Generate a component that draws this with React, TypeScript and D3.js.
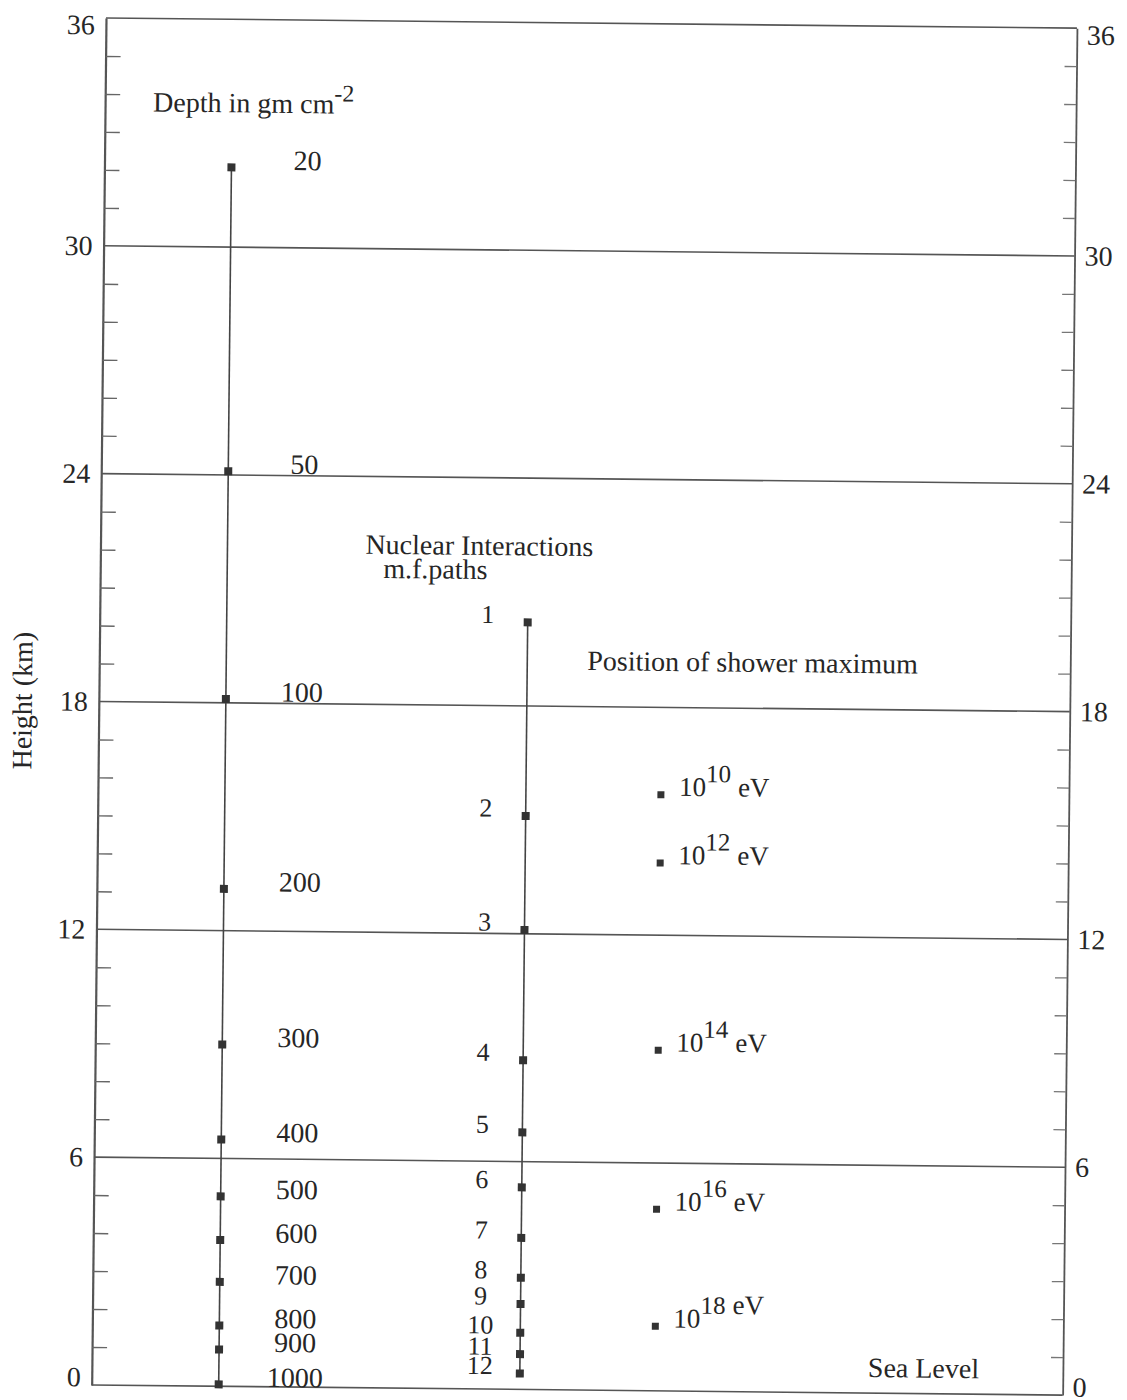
import React, { useEffect, useRef } from "react";
import * as d3 from "d3";

// height axis (km)
const majorHeights = [0, 6, 12, 18, 24, 30, 36];
const minorHeights = d3.range(1, 36).filter((h) => h % 6 !== 0);

// atmospheric depth (g cm^-2) and the height where it is reached
const depthLabels = ["20", "50", "100", "200", "300", "400", "500", "600", "700", "800", "900", "1000"];
const depthHeights = [32.1, 24.1, 18.1, 13.1, 9.0, 6.5, 5.0, 3.85, 2.75, 1.6, 0.97, 0.05];

// nuclear interaction mean free paths
const pathLabels = ["1", "2", "3", "4", "5", "6", "7", "8", "9", "10", "11", "12"];
const pathHeights = [20.2, 15.1, 12.1, 8.67, 6.77, 5.32, 3.99, 2.94, 2.25, 1.49, 0.93, 0.42];

// shower maximum for primary energies 10^n eV
const energyExponents = ["10", "12", "14", "16", "18"];
const energyHeights = [15.7, 13.9, 8.97, 4.78, 1.7];

const columns = ["depth", "paths", "shower"];

const W = 1127;
const H = 1400;
const origin = { x: 106, y: 18 };
const tilt = 0.6; // the scan is slightly rotated
const plotW = 971;
const plotH = 1367;
const FONT = '"Liberation Serif", "Times New Roman", Times, serif';
const INK = "#262626";
const LINE = "#555";

export default function App() {
  const ref = useRef<SVGSVGElement>(null);

  useEffect(() => {
    const svg = d3.select(ref.current);
    svg.selectAll("*").remove();

    const y = d3.scaleLinear().domain([0, 36]).range([plotH, 0]);
    const x = d3.scaleOrdinal<string, number>().domain(columns).range([127, 428, 563]);

    svg.append("rect").attr("width", W).attr("height", H).attr("fill", "#fff");

    const g = svg
      .append("g")
      .attr("transform", `translate(${origin.x},${origin.y}) rotate(${tilt})`)
      .attr("font-family", FONT)
      .attr("fill", INK);

    // horizontal lines (frame top/bottom + grid)
    g.append("g")
      .selectAll("line")
      .data(majorHeights)
      .join("line")
      .attr("x1", 0)
      .attr("x2", plotW)
      .attr("y1", (d) => y(d))
      .attr("y2", (d) => y(d))
      .attr("stroke", LINE)
      .attr("stroke-width", 1.6);

    const labelDy = (d: number) => (d === 36 ? "0.57em" : d === 0 ? "0.04em" : "0.32em");

    // left axis
    const left = g
      .append("g")
      .call(d3.axisLeft(y).tickValues(majorHeights).tickSize(0).tickSizeOuter(0).tickPadding(11).tickFormat(d3.format("d")))
      .attr("font-family", FONT)
      .attr("font-size", 28)
      .attr("color", INK);
    left.select(".domain").attr("stroke", LINE).attr("stroke-width", 2.2);
    left.selectAll("text").attr("dy", (d: any) => labelDy(d));

    g.append("g")
      .call(d3.axisRight(y).tickValues(minorHeights).tickSize(15).tickFormat(() => ""))
      .attr("color", "#666")
      .call((a) => a.select(".domain").remove())
      .selectAll("line")
      .attr("stroke-width", 1.4);

    // right axis
    const right = g
      .append("g")
      .attr("transform", `translate(${plotW},0)`)
      .call(d3.axisRight(y).tickValues(majorHeights).tickSize(0).tickSizeOuter(0).tickPadding(10).tickFormat(d3.format("d")))
      .attr("font-family", FONT)
      .attr("font-size", 28)
      .attr("color", INK);
    right.select(".domain").attr("stroke", LINE).attr("stroke-width", 1.8);
    right.selectAll("text").attr("dy", (d: any) => labelDy(d));

    g.append("g")
      .attr("transform", `translate(${plotW},0)`)
      .call(d3.axisLeft(y).tickValues(minorHeights).tickSize(12).tickFormat(() => ""))
      .attr("color", "#777")
      .call((a) => a.select(".domain").remove())
      .selectAll("line")
      .attr("stroke-width", 1.3);

    const mark = 8;

    // depth column
    g.append("line")
      .attr("x1", x("depth"))
      .attr("x2", x("depth"))
      .attr("y1", y(d3.max(depthHeights)!))
      .attr("y2", y(d3.min(depthHeights)!))
      .attr("stroke", "#444")
      .attr("stroke-width", 1.6);
    g.append("g")
      .selectAll("rect")
      .data(depthHeights)
      .join("rect")
      .attr("x", x("depth") - mark / 2)
      .attr("y", (d) => y(d) - mark / 2)
      .attr("width", mark)
      .attr("height", mark)
      .attr("fill", "#333");
    g.append("g")
      .selectAll("text")
      .data(depthLabels)
      .join("text")
      .attr("x", x("depth") + 76)
      .attr("y", (d, i) => y(depthHeights[i]) + 2)
      .attr("text-anchor", "middle")
      .attr("font-size", 28)
      .text((d) => d);

    // nuclear interaction column
    g.append("line")
      .attr("x1", x("paths"))
      .attr("x2", x("paths"))
      .attr("y1", y(d3.max(pathHeights)!))
      .attr("y2", y(d3.min(pathHeights)!))
      .attr("stroke", "#444")
      .attr("stroke-width", 1.6);
    g.append("g")
      .selectAll("rect")
      .data(pathHeights)
      .join("rect")
      .attr("x", x("paths") - mark / 2)
      .attr("y", (d) => y(d) - mark / 2)
      .attr("width", mark)
      .attr("height", mark)
      .attr("fill", "#333");
    g.append("g")
      .selectAll("text")
      .data(pathLabels)
      .join("text")
      .attr("x", x("paths") - 40)
      .attr("y", (d, i) => y(pathHeights[i]) + 1)
      .attr("text-anchor", "middle")
      .attr("font-size", 26)
      .text((d) => d);

    // shower maximum points
    g.append("g")
      .selectAll("rect")
      .data(energyHeights)
      .join("rect")
      .attr("x", x("shower") - 3.5)
      .attr("y", (d) => y(d) - 3.5)
      .attr("width", 7)
      .attr("height", 7)
      .attr("fill", "#333");
    const eLabels = g
      .append("g")
      .selectAll("text")
      .data(energyExponents)
      .join("text")
      .attr("x", x("shower") + 18)
      .attr("y", (d, i) => y(energyHeights[i]) + 1)
      .attr("font-size", 27);
    eLabels.append("tspan").text("10");
    eLabels.append("tspan").attr("dy", -14).attr("font-size", 25).text((d) => d);
    // in the original the last "eV" stays on the raised line
    eLabels
      .append("tspan")
      .attr("dx", 7)
      .attr("dy", (d) => (d === "18" ? 0 : 14))
      .text("eV");

    // titles
    const title = g.append("text").attr("x", 48).attr("y", 93).attr("font-size", 28);
    title.append("tspan").text("Depth in gm cm");
    title.append("tspan").attr("dy", -12).attr("font-size", 24).text("-2");

    g.append("text").attr("x", 265).attr("y", 533).attr("font-size", 28).text("Nuclear Interactions");
    g.append("text").attr("x", 283).attr("y", 557).attr("font-size", 28).text("m.f.paths");
    g.append("text").attr("x", 488).attr("y", 647).attr("font-size", 28).text("Position of shower maximum");
    g.append("text").attr("x", 776).attr("y", 1351).attr("font-size", 28).text("Sea Level");

    g.append("text")
      .attr("transform", `translate(-67,${y(18)}) rotate(-90)`)
      .attr("text-anchor", "middle")
      .attr("font-size", 28)
      .text("Height (km)");
  }, []);

  return (
    <svg
      ref={ref}
      width={W}
      height={H}
      style={{ position: "absolute", left: 0, top: 0, display: "block" }}
    />
  );
}
